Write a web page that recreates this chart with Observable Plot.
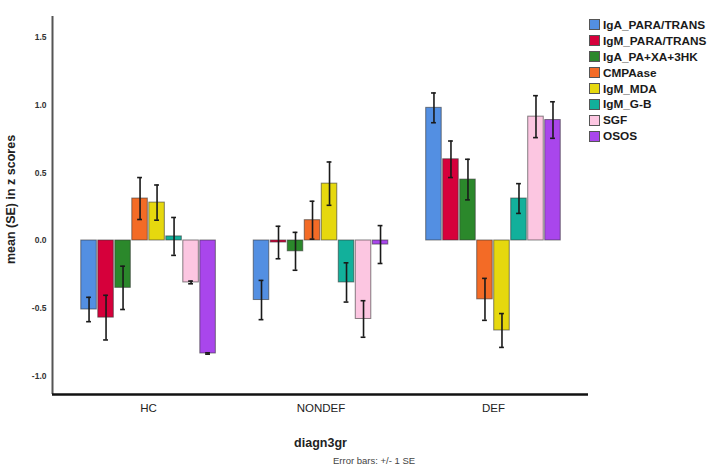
<!DOCTYPE html>
<html><head><meta charset="utf-8">
<script src="https://cdn.jsdelivr.net/npm/d3@7"></script>
<script src="https://cdn.jsdelivr.net/npm/@observablehq/plot@0.6"></script>
<style>
html,body{margin:0;padding:0;background:#fff;overflow:hidden}
#wrap{position:relative;width:722px;height:468px;font-family:"Liberation Sans",Arial,sans-serif}
#legend{position:absolute;left:589px;top:17px;font:bold 11.8px "Liberation Sans",Arial,sans-serif;color:#1a1a1a}
.item{display:flex;align-items:center;height:15.9px;white-space:nowrap}
.sw{width:11px;height:11px;border:1px solid #555;margin-right:3px;box-sizing:border-box}
#caption{position:absolute;left:333px;top:455px;font:9.5px "Liberation Sans",Arial,sans-serif;color:#444;white-space:nowrap}
</style></head>
<body><div id="wrap"><div id="chart"></div><div id="legend"></div><div id="caption">Error bars: +/- 1 SE</div></div>
<script>
const groups = ["HC", "NONDEF", "DEF"];
const series = ["IgA_PARA/TRANS", "IgM_PARA/TRANS", "IgA_PA+XA+3HK", "CMPAase", "IgM_MDA", "IgM_G-B", "SGF", "OSOS"];
const colors = ["#538fe2", "#d6003b", "#2b882b", "#f36b26", "#e6d80e", "#12b09b", "#fcc6e1", "#a946ec"];
const hcMean = [-0.51, -0.57, -0.35, 0.31, 0.28, 0.03, -0.31, -0.835];
const hcSE = [0.09, 0.165, 0.16, 0.155, 0.13, 0.14, 0.01, 0.005];
const nondefMean = [-0.44, -0.015, -0.08, 0.15, 0.42, -0.31, -0.58, -0.03];
const nondefSE = [0.145, 0.12, 0.14, 0.14, 0.16, 0.145, 0.135, 0.14];
const defMean = [0.98, 0.60, 0.45, -0.435, -0.665, 0.31, 0.915, 0.89];
const defSE = [0.11, 0.135, 0.15, 0.155, 0.125, 0.11, 0.155, 0.135];
const yTicks = [-1.0, -0.5, 0.0, 0.5, 1.0, 1.5];

const means = [hcMean, nondefMean, defMean];
const ses = [hcSE, nondefSE, defSE];
// dodge layout: group i centred at i, bars spaced within the group
const pitch = 0.0986, half = 0.045, cap = 0.014;
const rows = [];
groups.forEach((g, gi) => series.forEach((s, si) => {
  const xc = gi + (si - 3.5) * pitch;
  rows.push({group: g, series: s, mean: means[gi][si], se: ses[gi][si], xc, x1: xc - half, x2: xc + half});
}));
const xDom = [-0.557, 2.551], yDom = [-1.138, 1.655];

const chart = Plot.plot({
  width: 722, height: 455,
  marginLeft: 52, marginRight: 134, marginTop: 16, marginBottom: 61,
  style: {fontFamily: "'Liberation Sans', Arial, sans-serif", background: "#fff"},
  x: {type: "linear", domain: xDom},
  y: {domain: yDom},
  color: {domain: series, range: colors},
  marks: [
    Plot.rect(rows, {x1: "x1", x2: "x2", y1: 0, y2: "mean", fill: "series", stroke: "#333", strokeOpacity: 0.6, strokeWidth: 1}),
    Plot.ruleX(rows, {x: "xc", y1: d => d.mean - d.se, y2: d => d.mean + d.se, stroke: "#1a1a1a", strokeWidth: 1.6}),
    Plot.ruleY(rows, {y: d => d.mean - d.se, x1: d => d.xc - cap, x2: d => d.xc + cap, stroke: "#1a1a1a", strokeWidth: 1.6}),
    Plot.ruleY(rows, {y: d => d.mean + d.se, x1: d => d.xc - cap, x2: d => d.xc + cap, stroke: "#1a1a1a", strokeWidth: 1.6}),
    Plot.ruleX([xDom[0]], {stroke: "#555", strokeWidth: 2}),
    Plot.ruleY([yDom[0]], {stroke: "#111", strokeWidth: 2.5}),
    Plot.axisY({ticks: yTicks, tickFormat: d => d.toFixed(1), tickSize: 0, tickPadding: 6, fontSize: 8.5, fontWeight: "bold", fill: "#333", label: null}),
    Plot.axisX({ticks: [0, 1, 2], tickFormat: i => groups[i], tickSize: 0, tickPadding: 9, fontSize: 11.5, fill: "#222", label: null}),
    Plot.text(["diagn3gr"], {frameAnchor: "bottom", dy: 52, fontSize: 12.5, fontWeight: "bold", fill: "#222"}),
    Plot.text(["mean (SE) in z scores"], {frameAnchor: "left", textAnchor: "middle", dx: -42, dy: -6, rotate: -90, fontSize: 12.5, fontWeight: "bold", fill: "#222"})
  ]
});
document.getElementById("chart").appendChild(chart);

const leg = document.getElementById("legend");
series.forEach((s, i) => {
  const it = document.createElement("div"); it.className = "item";
  const sw = document.createElement("span"); sw.className = "sw"; sw.style.background = colors[i];
  const t = document.createElement("span"); t.textContent = s;
  it.appendChild(sw); it.appendChild(t); leg.appendChild(it);
});
</script></body></html>
